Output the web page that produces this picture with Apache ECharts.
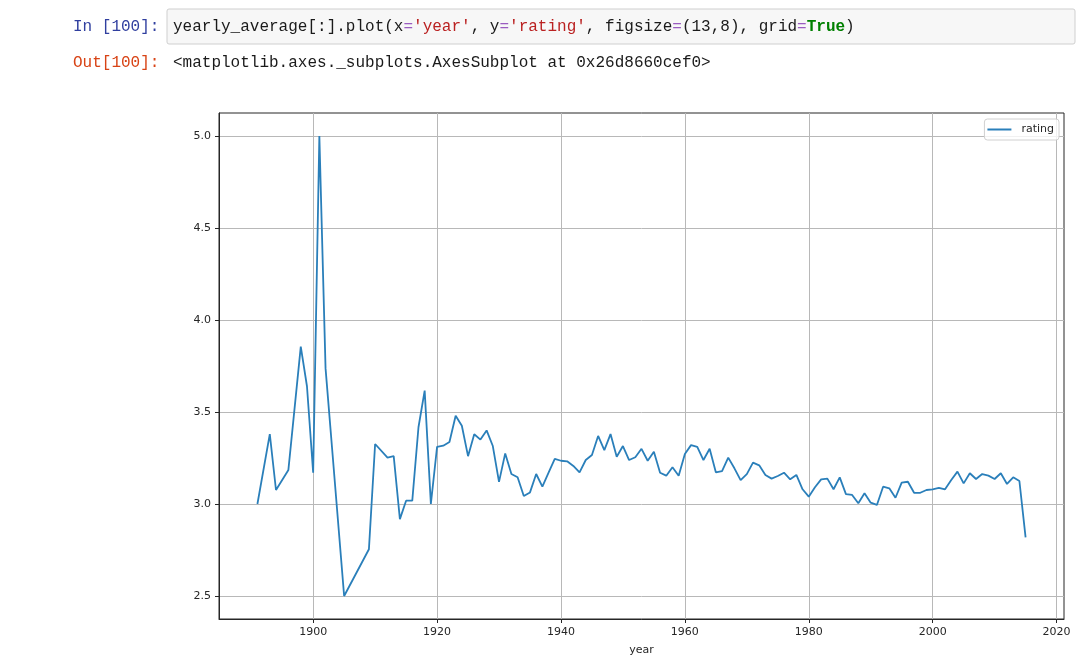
<!DOCTYPE html>
<html>
<head>
<meta charset="utf-8">
<script src="https://cdn.jsdelivr.net/npm/echarts@6/dist/echarts.min.js"></script>
<style>
  html, body { margin: 0; padding: 0; background: #ffffff; }
  #chart { width: 1085px; height: 669px; }
</style>
</head>
<body>
<div id="chart"></div>
<script>
// ---- data ----
const years = [1891, 1893, 1894, 1896, 1898, 1899, 1900, 1901, 1902, 1905, 1909, 1910,
  1912, 1913, 1914, 1915, 1916, 1917, 1918, 1919, 1920, 1921, 1922, 1923, 1924, 1925,
  1926, 1927, 1928, 1929, 1930, 1931, 1932, 1933, 1934, 1935, 1936, 1937, 1938, 1939,
  1940, 1941, 1942, 1943, 1944, 1945, 1946, 1947, 1948, 1949, 1950, 1951, 1952, 1953,
  1954, 1955, 1956, 1957, 1958, 1959, 1960, 1961, 1962, 1963, 1964, 1965, 1966, 1967,
  1968, 1969, 1970, 1971, 1972, 1973, 1974, 1975, 1976, 1977, 1978, 1979, 1980, 1981,
  1982, 1983, 1984, 1985, 1986, 1987, 1988, 1989, 1990, 1991, 1992, 1993, 1994, 1995,
  1996, 1997, 1998, 1999, 2000, 2001, 2002, 2003, 2004, 2005, 2006, 2007, 2008, 2009,
  2010, 2011, 2012, 2013, 2014, 2015];
const ratings = [3.00, 3.38, 3.076, 3.185, 3.855, 3.64, 3.17, 5.00, 3.737, 2.50, 2.754, 3.326,
  3.252, 3.26, 2.918, 3.018, 3.018, 3.417, 3.616, 3.00, 3.31, 3.317, 3.337, 3.48, 3.425, 3.26,
  3.379, 3.35, 3.40, 3.315, 3.12, 3.275, 3.163, 3.145, 3.043, 3.063, 3.163, 3.094, 3.17, 3.245,
  3.235, 3.232, 3.207, 3.172, 3.239, 3.266, 3.37, 3.293, 3.38, 3.257, 3.315, 3.239, 3.254, 3.30,
  3.235, 3.284, 3.17, 3.154, 3.20, 3.154, 3.272, 3.32, 3.31, 3.239, 3.30, 3.172, 3.179, 3.252,
  3.194, 3.13, 3.162, 3.225, 3.21, 3.158, 3.138, 3.152, 3.17, 3.134, 3.158, 3.08, 3.04, 3.091,
  3.134, 3.138, 3.08, 3.145, 3.054, 3.049, 3.004, 3.058, 3.007, 2.995, 3.094, 3.085, 3.034, 3.116,
  3.121, 3.061, 3.061, 3.076, 3.08, 3.087, 3.08, 3.13, 3.176, 3.112, 3.167, 3.136, 3.163, 3.154,
  3.136, 3.167, 3.109, 3.145, 3.125, 2.819];
const xTicks = [1900, 1920, 1940, 1960, 1980, 2000, 2020];
const yTicks = [2.5, 3.0, 3.5, 4.0, 4.5, 5.0];
const seriesName = 'rating';
const xName = 'year';
const inPrompt = 'In [100]:';
const outPrompt = 'Out[100]:';
const outText = '<matplotlib.axes._subplots.AxesSubplot at 0x26d8660cef0>';

// ---- chart ----
const chart = echarts.init(document.getElementById('chart'), null, { renderer: 'canvas' });
const mono = 'Liberation Mono, DejaVu Sans Mono, monospace';
const sans = 'DejaVu Sans, sans-serif';
const codeRich = {
  d: { fill: '#1a1a1a', color: '#1a1a1a', fontFamily: mono, fontSize: 16 },
  o: { fill: '#9a5cc0', color: '#9a5cc0', fontFamily: mono, fontSize: 16 },
  s: { fill: '#BA2121', color: '#BA2121', fontFamily: mono, fontSize: 16 },
  k: { fill: '#008000', color: '#008000', fontFamily: mono, fontSize: 16, fontWeight: 'bold' }
};
const codeStr = "{d|yearly_average[:].plot(x}{o|=}{s|'year'}{d|, y}{o|=}{s|'rating'}{d|, figsize}{o|=}{d|(13,8), grid}{o|=}{k|True}{d|)}";

const option = {
  animation: false,
  backgroundColor: '#ffffff',
  grid: {
    left: 219, right: 21, top: 113, bottom: 50,
    show: true, borderColor: '#262626', borderWidth: 1,
    backgroundColor: 'transparent',
    containLabel: false, outerBoundsMode: 'none'
  },
  legend: {
    show: true,
    data: [{ name: seriesName, icon: 'rect' }],
    right: 26, top: 119,
    itemWidth: 24, itemHeight: 2, itemGap: 8,
    padding: [5, 5, 5, 3],
    borderColor: '#d0d0d0', borderWidth: 1, borderRadius: 3,
    backgroundColor: 'rgba(255,255,255,0.8)',
    textStyle: { fontFamily: sans, fontSize: 11, color: '#262626', padding: [0, 0, 0, 5] }
  },
  xAxis: {
    type: 'value',
    min: 1884.8, max: 2021.2,
    name: xName, nameLocation: 'middle', nameGap: 26,
    nameTextStyle: { fontFamily: sans, fontSize: 11, color: '#262626' },
    axisLine: { show: true, lineStyle: { color: '#262626', width: 1 } },
    axisTick: { show: true, customValues: xTicks, length: 4, lineStyle: { color: '#262626', width: 1 } },
    axisLabel: { show: true, customValues: xTicks, margin: 8, fontFamily: sans, fontSize: 11, color: '#262626',
      formatter: v => String(v) },
    splitLine: { show: true, lineStyle: { color: '#b8b8b8', width: 1 } },
    minorTick: { show: false }, minorSplitLine: { show: false }
  },
  yAxis: {
    type: 'value',
    min: 2.375, max: 5.125,
    axisLine: { show: true, lineStyle: { color: '#262626', width: 1 } },
    axisTick: { show: true, customValues: yTicks, length: 4, lineStyle: { color: '#262626', width: 1 } },
    axisLabel: { show: true, customValues: yTicks, margin: 8, fontFamily: sans, fontSize: 11, color: '#262626',
      formatter: v => Number(v).toFixed(1) },
    splitLine: { show: true, lineStyle: { color: '#b8b8b8', width: 1 } }
  },
  series: [{
    name: seriesName,
    type: 'line',
    data: years.map((y, i) => [y, ratings[i]]),
    symbol: 'none',
    showSymbol: false,
    smooth: false,
    color: '#1f77b4',
    lineStyle: { color: '#2a7fba', width: 1.8 },
    itemStyle: { color: '#2a7fba' },
    emphasis: { disabled: true }
  }],
  graphic: [
    {
      type: 'rect', z: 10,
      shape: { x: 167, y: 9, width: 908, height: 35, r: 2 },
      style: { fill: '#f7f7f7', stroke: '#cfcfcf', lineWidth: 1 }
    },
    {
      type: 'text', z: 11, x: 73, y: 27,
      style: { text: inPrompt, fill: '#303F9F', font: '16px ' + mono, verticalAlign: 'middle', align: 'left' }
    },
    {
      type: 'text', z: 11, x: 173, y: 27,
      style: { text: codeStr, rich: codeRich, fill: '#1a1a1a', font: '16px ' + mono, verticalAlign: 'middle', align: 'left' }
    },
    {
      type: 'text', z: 11, x: 73, y: 63,
      style: { text: outPrompt, fill: '#D84315', font: '16px ' + mono, verticalAlign: 'middle', align: 'left' }
    },
    {
      type: 'text', z: 11, x: 173, y: 63,
      style: { text: outText, fill: '#1a1a1a', font: '16px ' + mono, verticalAlign: 'middle', align: 'left' }
    }
  ]
};
chart.setOption(option);
</script>
</body>
</html>
